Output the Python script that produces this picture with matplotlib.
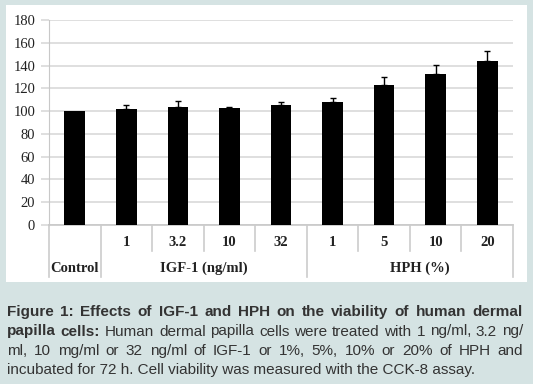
import matplotlib
matplotlib.use('Agg')
import matplotlib.pyplot as plt
from matplotlib.patches import Rectangle
from matplotlib.transforms import blended_transform_factory, IdentityTransform

plt.rcParams['font.family'] = ['Liberation Serif', 'DejaVu Serif']

# data
values = [100, 102, 104, 102.3, 105.5, 107.6, 122.8, 132.3, 144]
errors = [0, 3, 5, 1, 2.5, 4, 7.5, 8.2, 9]
dose_labels = ['', '1', '3.2', '10', '32', '1', '5', '10', '20']
group_labels = ['Control', 'IGF-1 (ng/ml)', 'HPH (%)']
group_x = [0, 2.5, 6.7]

caption = [
    [("Figure 1: Effects of IGF-1 and HPH on the viability of human dermal", True)],
    [("papilla cells:", True),
     ("Human dermal papilla cells were treated with 1 ng/ml, 3.2 ng/", False)],
    [("ml, 10 mg/ml or 32 ng/ml of IGF-1 or 1%, 5%, 10% or 20% of HPH and", False)],
    [("incubated for 72 h. Cell viability was measured with the CCK-8 assay.", False)],
]

W, H = 533, 384
bg = '#d5e3e3'
grid_c = '#d9d9d9'
sans = 'Liberation Sans'

fig = plt.figure(figsize=(W / 100, H / 100), dpi=100)
fig.patch.set_facecolor(bg)
fig.patches.append(Rectangle((6 / W, 1 - 282 / H), 521 / W, 277 / H,
                             transform=fig.transFigure, facecolor='white',
                             edgecolor='none', zorder=-1))

ax = fig.add_axes([49 / W, 1 - 225 / H, 464 / W, 205 / H])
ax.set_facecolor('none')
x = list(range(len(values)))
ax.bar(x, values, width=0.4, color='black', zorder=3)
ax.errorbar(x[1:], values[1:], yerr=[[0] * 8, errors[1:]], fmt='none',
            ecolor='black', elinewidth=1, capsize=2.5, capthick=1, zorder=4)

ax.set_xlim(-0.5, 8.5)
ax.set_ylim(0, 180)
ax.set_yticks(range(0, 181, 20))
ax.yaxis.grid(True, color=grid_c, linewidth=1.2, zorder=0)
ax.set_axisbelow(True)
for s in ['top', 'right', 'bottom']:
    ax.spines[s].set_visible(False)
ax.spines['left'].set_color('#c8c8c8')
ax.tick_params(axis='y', length=6, color=grid_c, width=1.2, pad=4, labelsize=10.5,
               labelcolor='#222222')
ax.set_xticks([])

# category table below the axis
tr = blended_transform_factory(ax.transData, ax.transAxes)
ax.plot([-0.5, 8.5], [0, 0], color='#c8c8c8', lw=1.2, transform=tr, clip_on=False, zorder=2)
for b in [-0.5, 0.5, 4.5, 8.5]:
    ax.plot([b, b], [0, -0.255], color='#cccccc', lw=1.2, transform=tr, clip_on=False)
for b in [1.5, 2.5, 3.5, 5.5, 6.5, 7.5]:
    ax.plot([b, b], [0, -0.125], color='#cccccc', lw=1.2, transform=tr, clip_on=False)
for xi, lab in zip(x, dose_labels):
    ax.text(xi, -0.083, lab, transform=tr, ha='center', va='center',
            fontweight='bold', fontsize=10.5, color='#222222')
for gx, lab in zip(group_x, group_labels):
    ax.text(gx, -0.212, lab, transform=tr, ha='center', va='center',
            fontweight='bold', fontsize=10.5, color='#222222')

# caption, justified like the journal layout
renderer = fig.canvas.get_renderer()
ident = IdentityTransform()
left, right = 7, 523
baselines = [316, 335.5, 355, 374]
cap_color = '#333333'


def make(word, bold):
    return fig.text(0, 0, word, transform=ident, fontfamily=sans, fontsize=11,
                    fontweight='bold' if bold else 'normal', color=cap_color,
                    ha='left', va='baseline')


for i, line in enumerate(caption):
    y = H - baselines[i]
    if i == len(caption) - 1:
        t = make(line[0][0], line[0][1])
        t.set_position((left, y))
        continue
    words = []
    for chunk, bold in line:
        for w in chunk.split(' '):
            words.append(make(w, bold))
    widths = [w.get_window_extent(renderer).width for w in words]
    gap = (right - left - sum(widths)) / (len(words) - 1)
    xp = left
    for w, wd in zip(words, widths):
        w.set_position((xp, y))
        xp += wd + gap

fig.savefig('out.png', dpi=100, facecolor=bg)
